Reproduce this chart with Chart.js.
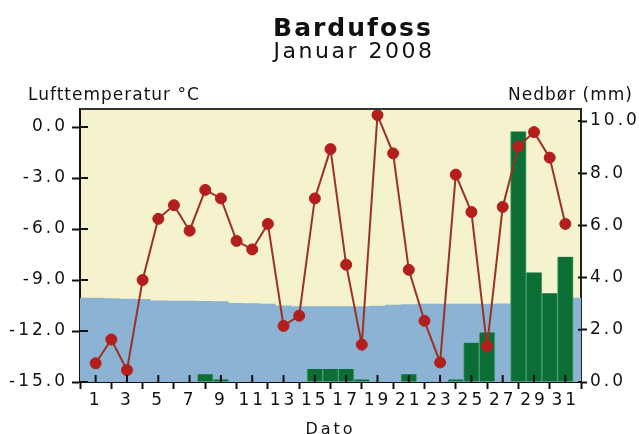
<!DOCTYPE html>
<html>
<head>
<meta charset="utf-8">
<title>Bardufoss januar 2008</title>
<script src="https://cdn.jsdelivr.net/npm/chart.js@4.4.1/dist/chart.umd.min.js"></script>
<style>
  html, body { margin: 0; padding: 0; background: #fff; }
  canvas { display: block; }
</style>
</head>
<body>
<canvas id="weatherChart" width="639" height="434"></canvas>
<script>
// dager i januar
var days = [1, 2, 3, 4, 5, 6, 7, 8, 9, 10, 11, 12, 13, 14, 15, 16, 17, 18, 19, 20, 21, 22, 23, 24, 25, 26, 27, 28, 29, 30, 31];
var dayTicks = [1, 3, 5, 7, 9, 11, 13, 15, 17, 19, 21, 23, 25, 27, 29, 31];
var tempTicks = [-15, -12, -9, -6, -3, 0];
var rainTicks = [0, 2, 4, 6, 8, 10];

// lufttemperatur (°C), døgnmiddel
var temperature = [-13.9, -12.5, -14.3, -9.0, -5.4, -4.6, -6.1, -3.7, -4.2, -6.7, -7.2, -5.7, -11.7, -11.1, -4.2, -1.3,
    -8.1, -12.8, 0.7, -1.55, -8.4, -11.4, -13.85, -2.8, -5.0, -12.9, -4.7, -1.15, -0.3, -1.8, -5.7];
// nedbør (mm)
var precipitation = [0, 0, 0, 0, 0, 0, 0, 0.3, 0.1, 0, 0, 0, 0, 0, 0.5, 0.5, 0.5, 0.1, 0, 0, 0.3, 0, 0, 0.1, 1.5, 1.9, 0,
    9.6, 4.2, 3.4, 4.8];
// normaltemperatur (blått felt)
var normalTemp = [-10.05, -10.08, -10.1, -10.12, -10.2, -10.22, -10.22, -10.23, -10.25, -10.35, -10.37, -10.4, -10.5,
    -10.55, -10.55, -10.55, -10.55, -10.55, -10.52, -10.45, -10.42, -10.4, -10.4, -10.4, -10.4, -10.4, -10.38, -10.3,
    -10.2, -10.1, -10.05];

var fontFamily = '"DejaVu Sans", Verdana, sans-serif';

function points(values) {
    return days.map((d, i) => ({x: d, y: values[i]}));
}

// normalfeltet skal gå helt ut til kantene av plottet
var normalPoints = [{x: 0, y: normalTemp[0]}].concat(points(normalTemp), [{x: 32, y: normalTemp[normalTemp.length - 1]}]);

var framePlugin = {
    id: 'frame',
    beforeDraw(chart) {
        let ctx = chart.ctx, a = chart.chartArea;
        ctx.letterSpacing = '3px';
        ctx.save();
        ctx.fillStyle = '#f5f2ce';
        ctx.fillRect(a.left, a.top, a.right - a.left, a.bottom - a.top);
        ctx.restore();
    },
    afterDraw(chart) {
        let ctx = chart.ctx, a = chart.chartArea;
        ctx.save();
        // topplinje
        ctx.strokeStyle = '#333';
        ctx.lineWidth = 2;
        ctx.beginPath();
        ctx.moveTo(a.left, a.top);
        ctx.lineTo(a.right, a.top);
        ctx.stroke();

        // tick-streker innover i plottet
        ctx.strokeStyle = '#111';
        let sx = chart.scales.x, sy = chart.scales.y, sy2 = chart.scales.y2;
        ctx.beginPath();
        sx.ticks.forEach(t => {
            let px = sx.getPixelForValue(t.value);
            ctx.moveTo(px, a.bottom);
            ctx.lineTo(px, a.bottom - 7);
        });
        sy.ticks.forEach(t => {
            let py = sy.getPixelForValue(t.value);
            ctx.moveTo(a.left, py);
            ctx.lineTo(a.left + 8, py);
        });
        sy2.ticks.forEach(t => {
            let py = sy2.getPixelForValue(t.value);
            ctx.moveTo(a.right, py);
            ctx.lineTo(a.right - 3, py);
        });
        ctx.stroke();

        // titler
        ctx.fillStyle = '#111';
        ctx.textBaseline = 'alphabetic';
        ctx.textAlign = 'center';
        ctx.letterSpacing = '2px';
        ctx.font = 'bold 25px ' + fontFamily;
        ctx.fillText('Bardufoss', 353, 36);
        ctx.letterSpacing = '2.5px';
        ctx.font = '22px ' + fontFamily;
        ctx.fillText('Januar 2008', 354, 58);

        ctx.letterSpacing = '1px';
        ctx.font = '17px ' + fontFamily;
        ctx.textAlign = 'left';
        ctx.fillText('Lufttemperatur °C', 28, 100);
        ctx.textAlign = 'right';
        ctx.fillText('Nedbør (mm)', 633, 100);
        ctx.restore();
    }
};

var tickFont = {family: fontFamily, size: 17};

new Chart(document.getElementById('weatherChart'), {
    data: {
        datasets: [
            {
                type: 'line',
                label: 'Lufttemperatur',
                data: points(temperature),
                yAxisID: 'y',
                order: 0,
                borderColor: '#993324',
                borderWidth: 2,
                tension: 0,
                pointRadius: 5.5,
                pointBackgroundColor: '#b31f1c',
                pointBorderColor: '#b31f1c',
                pointBorderWidth: 1
            },
            {
                type: 'bar',
                label: 'Nedbør',
                data: points(precipitation),
                yAxisID: 'y2',
                order: 1,
                backgroundColor: '#0b6e34',
                borderColor: '#4f9c6a',
                borderWidth: {left: 1, right: 1, top: 0, bottom: 0},
                barPercentage: 1,
                categoryPercentage: 1
            },
            {
                type: 'line',
                label: 'Normal',
                data: normalPoints,
                yAxisID: 'y',
                order: 2,
                borderWidth: 0,
                pointRadius: 0,
                stepped: 'middle',
                fill: 'start',
                backgroundColor: '#8cb3d3'
            }
        ]
    },
    options: {
        responsive: false,
        animation: false,
        layout: {padding: {top: 109, left: 0, right: 0, bottom: 0}},
        plugins: {
            legend: {display: false},
            tooltip: {enabled: false}
        },
        scales: {
            x: {
                type: 'linear',
                min: 0,
                max: 32,
                offset: false,
                z: 1,
                afterFit: scale => { scale.height = 52; },
                afterBuildTicks: scale => { scale.ticks = dayTicks.map(v => ({value: v})); },
                ticks: {autoSkip: false, maxRotation: 0, padding: 1, color: '#111', font: tickFont},
                grid: {drawOnChartArea: false, tickLength: 7, tickWidth: 2, tickColor: '#111'},
                border: {color: '#111', width: 2},
                title: {
                    display: true,
                    text: 'Dato',
                    color: '#111',
                    font: {family: fontFamily, size: 16, lineHeight: 0.75},
                    padding: {top: 0, bottom: -2}
                }
            },
            y: {
                position: 'left',
                min: -15,
                max: 1.06,
                z: 1,
                afterFit: scale => { scale.width = 80; },
                afterBuildTicks: scale => { scale.ticks = tempTicks.map(v => ({value: v})); },
                ticks: {padding: 4, color: '#111', font: tickFont, callback: v => v.toFixed(1)},
                grid: {drawOnChartArea: false, tickLength: 8, tickWidth: 2, tickColor: '#111'},
                border: {color: '#111', width: 2}
            },
            y2: {
                position: 'right',
                min: 0,
                max: 10.46,
                z: 1,
                afterFit: scale => { scale.width = 58; },
                afterBuildTicks: scale => { scale.ticks = rainTicks.map(v => ({value: v})); },
                ticks: {padding: 3, color: '#111', font: tickFont, callback: v => v.toFixed(1)},
                grid: {drawOnChartArea: false, tickLength: 6, tickWidth: 2, tickColor: '#111'},
                border: {color: '#222', width: 2}
            }
        }
    },
    plugins: [framePlugin]
});
</script>
</body>
</html>
